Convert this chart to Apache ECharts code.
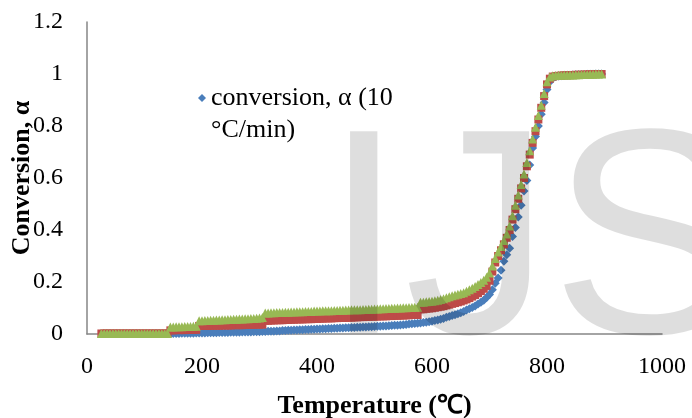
<!DOCTYPE html>
<html>
<head>
<meta charset="utf-8">
<script src="https://cdn.jsdelivr.net/npm/echarts@6/dist/echarts.min.js"></script>
<style>
  html, body { margin: 0; padding: 0; background: #fff; }
  #main { width: 692px; height: 418px; }
</style>
</head>
<body>
<div id="main"></div>
<script>
// temperature (°C) of each reading
var temps = [
  25,30,35,40,45,50,55,60,65,70,
  75,80,85,90,95,100,105,110,115,120,
  125,130,135,140,145,150,155,160,165,170,
  175,180,185,190,195,200,205,210,215,220,
  225,230,235,240,245,250,255,260,265,270,
  275,280,285,290,295,300,305,310,315,320,
  325,330,335,340,345,350,355,360,365,370,
  375,380,385,390,395,400,405,410,415,420,
  425,430,435,440,445,450,455,460,465,470,
  475,480,485,490,495,500,505,510,515,520,
  525,530,535,540,545,550,555,560,565,570,
  575,580,585,590,595,600,605,610,615,620,
  625,630,635,640,645,650,655,660,665,670,
  675,680,685,690,695,700,705,710,715,720,
  725,730,735,740,745,750,755,760,765,770,
  775,780,785,790,795,800,805,810,815,820,
  825,830,835,840,845,850,855,860,865,870,
  875,880,885,890,895];

// conversion α, blue series (no readings below 145 °C)
var alphaBlue = [
  null,null,null,null,null,null,null,null,null,null,
  null,null,null,null,null,null,null,null,null,null,
  null,null,null,null,0.002,0.002,0.002,0.002,0.003,0.003,
  0.003,0.003,0.003,0.004,0.004,0.004,0.004,0.005,0.005,0.005,
  0.005,0.006,0.006,0.006,0.006,0.007,0.007,0.007,0.007,0.008,
  0.008,0.008,0.008,0.009,0.009,0.009,0.010,0.010,0.011,0.011,
  0.011,0.012,0.012,0.013,0.013,0.014,0.014,0.015,0.015,0.016,
  0.016,0.017,0.017,0.018,0.018,0.019,0.019,0.020,0.020,0.021,
  0.021,0.022,0.022,0.023,0.023,0.024,0.024,0.025,0.025,0.026,
  0.026,0.027,0.027,0.028,0.028,0.029,0.030,0.030,0.031,0.031,
  0.032,0.033,0.034,0.034,0.035,0.036,0.037,0.038,0.039,0.040,
  0.041,0.042,0.044,0.045,0.047,0.049,0.052,0.054,0.057,0.060,
  0.064,0.067,0.071,0.074,0.078,0.082,0.087,0.092,0.097,0.102,
  0.108,0.115,0.122,0.130,0.140,0.152,0.170,0.195,0.215,0.245,
  0.280,0.305,0.330,0.375,0.410,0.450,0.495,0.550,0.590,0.650,
  0.715,0.760,0.800,0.845,0.890,0.940,0.970,0.985,0.990,0.992,
  0.993,0.994,0.995,0.995,0.996,0.997,0.997,0.998,0.998,0.999,
  0.999,0.999,1.000,1.000,1.000];

// conversion α, red series
var alphaRed = [
  0.002,0.002,0.002,0.002,0.002,0.002,0.002,0.002,0.002,0.002,
  0.002,0.002,0.002,0.002,0.002,0.002,0.002,0.002,0.002,0.002,
  0.002,0.002,0.002,0.002,0.014,0.014,0.015,0.015,0.015,0.015,
  0.016,0.016,0.016,0.016,0.031,0.031,0.031,0.031,0.032,0.032,
  0.032,0.032,0.033,0.033,0.033,0.033,0.034,0.034,0.034,0.034,
  0.035,0.035,0.035,0.035,0.036,0.036,0.036,0.051,0.051,0.052,
  0.052,0.053,0.053,0.053,0.054,0.054,0.055,0.055,0.056,0.056,
  0.056,0.057,0.057,0.057,0.058,0.058,0.059,0.059,0.060,0.060,
  0.060,0.061,0.061,0.062,0.062,0.062,0.063,0.063,0.064,0.064,
  0.065,0.065,0.066,0.066,0.067,0.067,0.067,0.068,0.068,0.068,
  0.069,0.069,0.070,0.070,0.071,0.071,0.072,0.072,0.073,0.073,
  0.073,0.095,0.095,0.097,0.098,0.099,0.101,0.103,0.105,0.107,
  0.110,0.113,0.116,0.119,0.122,0.125,0.129,0.133,0.138,0.144,
  0.150,0.157,0.165,0.174,0.185,0.205,0.240,0.275,0.300,0.322,
  0.345,0.370,0.400,0.440,0.480,0.520,0.560,0.600,0.645,0.690,
  0.735,0.780,0.825,0.870,0.915,0.960,0.982,0.990,0.992,0.993,
  0.994,0.995,0.995,0.996,0.996,0.997,0.997,0.997,0.998,0.998,
  0.999,0.999,1.000,1.000,1.000];

// conversion α, green series
var alphaGreen = [
  0.002,0.002,0.002,0.002,0.002,0.002,0.002,0.002,0.002,0.002,
  0.002,0.002,0.002,0.002,0.002,0.002,0.002,0.002,0.002,0.002,
  0.002,0.002,0.002,0.002,0.027,0.027,0.028,0.028,0.028,0.029,
  0.029,0.029,0.030,0.030,0.051,0.051,0.052,0.052,0.053,0.053,
  0.054,0.054,0.055,0.055,0.056,0.056,0.057,0.057,0.058,0.058,
  0.059,0.059,0.060,0.060,0.061,0.062,0.063,0.081,0.081,0.082,
  0.082,0.083,0.083,0.083,0.084,0.084,0.085,0.085,0.086,0.086,
  0.086,0.087,0.087,0.087,0.088,0.088,0.088,0.089,0.089,0.089,
  0.089,0.090,0.090,0.091,0.091,0.092,0.092,0.093,0.093,0.093,
  0.093,0.094,0.094,0.095,0.095,0.096,0.096,0.097,0.097,0.098,
  0.098,0.099,0.099,0.100,0.100,0.101,0.101,0.102,0.102,0.103,
  0.103,0.122,0.122,0.124,0.125,0.126,0.128,0.130,0.133,0.136,
  0.139,0.143,0.147,0.150,0.153,0.156,0.159,0.164,0.170,0.176,
  0.183,0.190,0.198,0.207,0.218,0.235,0.262,0.290,0.315,0.337,
  0.360,0.385,0.415,0.455,0.495,0.535,0.575,0.615,0.660,0.705,
  0.750,0.795,0.840,0.880,0.925,0.970,0.988,0.993,0.994,0.995,
  0.995,0.996,0.996,0.996,0.996,0.997,0.997,0.998,0.998,0.998,
  0.999,0.999,1.000,1.000,1.000];

var xTicks = { min: 0, max: 1000, step: 200 };
var yTicks = { min: 0, max: 1.2, step: 0.2 };

function pairs(vals) {
  return temps.map(function (t, i) { return [t, vals[i]]; })
    .filter(function (p) { return p[1] !== null; });
}

var serif = '"Liberation Serif", "Times New Roman", serif';
var chart = echarts.init(document.getElementById('main'), null, { renderer: 'canvas' });

var option = {
  animation: false,
  backgroundColor: '#fff',
  grid: { left: 87, right: 30, top: 22, bottom: 84, containLabel: false, outerBoundsMode: 'none' },
  legend: {
    data: [{ name: 'conversion, α (10 °C/min)', icon: 'diamond' }],
    left: 198,
    top: 50,
    padding: 0,
    itemWidth: 8,
    itemHeight: 8,
    // blank first line keeps the marker beside the first text line
    formatter: function () { return '\nconversion, α (10\n°C/min)'; },
    textStyle: { fontFamily: serif, fontSize: 26, color: '#000', lineHeight: 32 }
  },
  xAxis: {
    type: 'value',
    min: xTicks.min, max: xTicks.max, interval: xTicks.step,
    name: 'Temperature (℃)',
    nameLocation: 'middle',
    nameGap: 59,
    nameMoveOverlap: false,
    nameTextStyle: { fontFamily: serif, fontSize: 26, fontWeight: 'bold', color: '#000' },
    axisLine: { lineStyle: { color: '#868686', width: 1.5 } },
    axisTick: { show: false },
    splitLine: { show: false },
    axisLabel: {
      fontFamily: serif, fontSize: 24, color: '#000', margin: 21,
      formatter: function (v) { return String(v); }
    }
  },
  yAxis: {
    type: 'value',
    min: yTicks.min, max: yTicks.max, interval: yTicks.step,
    name: 'Conversion, α',
    nameLocation: 'middle',
    nameGap: 52,
    nameMoveOverlap: false,
    nameTextStyle: { fontFamily: serif, fontSize: 26, fontWeight: 'bold', color: '#000' },
    axisLine: { show: true, lineStyle: { color: '#868686', width: 1.5 } },
    axisTick: { show: false },
    splitLine: { show: false },
    axisLabel: { fontFamily: serif, fontSize: 24, color: '#000', margin: 24 }
  },
  series: [
    {
      name: 'conversion, α (10 °C/min)',
      type: 'scatter',
      symbol: 'diamond',
      symbolSize: 9,
      itemStyle: { color: '#4a7ebb', opacity: 1 },
      data: pairs(alphaBlue),
      z: 2
    },
    {
      name: 'red',
      type: 'scatter',
      symbol: 'rect',
      symbolSize: 8,
      itemStyle: { color: '#be4b48', opacity: 1 },
      data: pairs(alphaRed),
      z: 3
    },
    {
      name: 'green',
      type: 'scatter',
      symbol: 'triangle',
      symbolSize: 9,
      itemStyle: { color: '#98b954', opacity: 1 },
      data: pairs(alphaGreen),
      z: 4
    }
  ],
  // watermark sits over the plot
  graphic: [{
    type: 'text',
    z: 100,
    silent: true,
    style: {
      text: 'IJS',
      x: 323,
      y: 252,
      font: '293px "Liberation Sans", Arial, sans-serif',
      fill: 'rgba(0,0,0,0.13)',
      align: 'left',
      verticalAlign: 'middle'
    }
  }]
};

chart.setOption(option);
</script>
</body>
</html>
